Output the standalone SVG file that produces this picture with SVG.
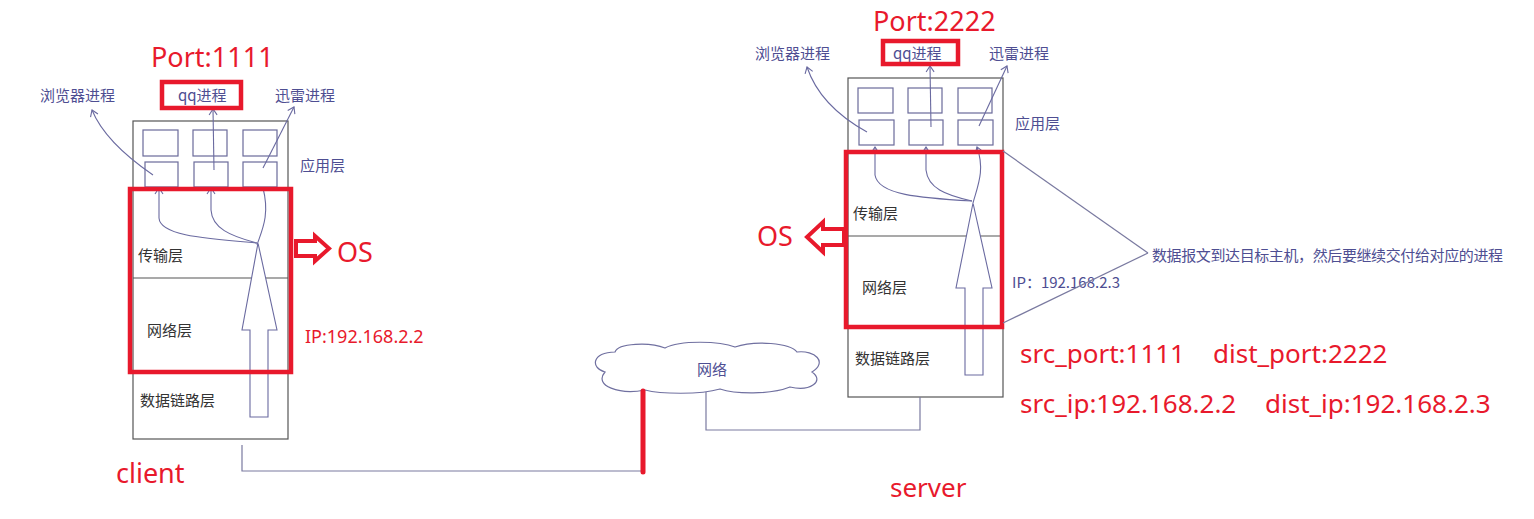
<svg xmlns="http://www.w3.org/2000/svg" width="1534" height="519" viewBox="0 0 1534 519">
<style>
.box{fill:none;stroke:#555;stroke-width:1.2}
.cell{fill:none;stroke:#6a6a9a;stroke-width:1.2}
.curve{fill:none;stroke:#6a6aa0;stroke-width:1.1}
.red{fill:none;stroke:#e8192c;stroke-width:4.5}
.redfill{fill:#fff;stroke:#e8192c;stroke-width:4}
.big{fill:#fff;stroke:#6a6aa0;stroke-width:1.1}
.gl{fill:none;stroke:#7a7aa0;stroke-width:1.2}
.lbl{font-family:"Noto Sans CJK SC","Noto Sans",sans-serif;font-size:15px;fill:#4e4e92}
.lay{font-family:"Noto Sans CJK SC","Noto Sans",sans-serif;font-size:15px;fill:#333}
.rt{font-family:"Noto Sans","Noto Sans CJK SC",sans-serif;fill:#e8192c}
</style>
<defs>
<marker id="ah" markerWidth="10" markerHeight="10" refX="7" refY="5" orient="auto" markerUnits="userSpaceOnUse">
<path d="M1,1 L7,5 L1,9" fill="none" stroke="#6a6aa0" stroke-width="1.1"/>
</marker>
</defs>
<rect width="1534" height="519" fill="#fff"/>

<g id="client">
<rect class="box" x="133" y="121" width="155" height="318"/>
<rect class="cell" x="143" y="130" width="35" height="26"/>
<rect class="cell" x="193" y="130" width="34" height="26"/>
<rect class="cell" x="243" y="130" width="34" height="26"/>
<rect class="cell" x="145" y="162" width="33" height="25"/>
<rect class="cell" x="194" y="162" width="34" height="25"/>
<rect class="cell" x="243" y="162" width="34" height="25"/>
<line class="box" x1="133" y1="278" x2="288" y2="278"/>
<line class="box" x1="133" y1="371" x2="288" y2="371"/>
<polygon class="big" points="250,417 268,417 268,330 277,330 258,243 242,330 250,330"/>
<path class="curve" d="M257,243 C200,238 160,235 159,218 L159,188" marker-end="url(#ah)"/>
<path class="curve" d="M257,243 C230,236 212,228 211,210 L211,188" marker-end="url(#ah)"/>
<path class="curve" d="M257,245 C262,230 270,215 263,188"/>
<path class="curve" d="M153,175 Q105,142 92,110" marker-end="url(#ah)"/>
<path class="curve" d="M214,170 L213,109" marker-end="url(#ah)"/>
<path class="curve" d="M263,168 L294,107" marker-end="url(#ah)"/>
<text class="lbl" x="40" y="101">浏览器进程</text>
<text class="lbl" x="178" y="101">qq进程</text>
<text class="lbl" x="275" y="101">迅雷进程</text>
<text class="lbl" x="300" y="171">应用层</text>
<text class="lay" x="138" y="261">传输层</text>
<text class="lay" x="147" y="336">网络层</text>
<text class="lay" x="140" y="406">数据链路层</text>
<rect class="red" x="130" y="189" width="161" height="183"/>
<rect class="red" x="162" y="82" width="79" height="26"/>
<text class="rt" x="151" y="67" font-size="27">Port:1111</text>
<polygon class="redfill" points="296,241 315,241 315,236 329,248.5 315,261 315,256 296,256"/>
<text class="rt" x="337" y="262" font-size="27">OS</text>
<text class="rt" x="305" y="343" font-size="18">IP:192.168.2.2</text>
<text class="rt" x="116" y="483" font-size="27">client</text>
</g>

<g id="network">
<path d="M605,372 C590,368 592,352 615,352 C618,343 650,342 665,348 C680,340 720,341 735,347 C755,340 790,343 797,352 C815,350 828,362 812,372 C825,381 810,392 790,387 C770,395 735,394 720,389 C700,395 660,394 645,390 C620,395 593,386 605,372 Z" fill="#fff" stroke="#7070a0" stroke-width="1.2"/>
<text class="lbl" x="712" y="375" text-anchor="middle">网络</text>
</g>

<g id="server">
<rect class="box" x="848" y="78" width="155" height="319"/>
<rect class="cell" x="858" y="88" width="35" height="25"/>
<rect class="cell" x="908" y="88" width="34" height="25"/>
<rect class="cell" x="958" y="88" width="34" height="25"/>
<rect class="cell" x="859" y="120" width="35" height="25"/>
<rect class="cell" x="909" y="120" width="34" height="25"/>
<rect class="cell" x="958" y="120" width="35" height="25"/>
<line class="box" x1="848" y1="236" x2="1003" y2="236"/>
<line class="box" x1="848" y1="326" x2="1003" y2="326"/>
<polygon class="big" points="965,375 983,375 983,288 992,288 973,203 956,288 965,288"/>
<path class="curve" d="M972,201 C920,198 878,195 875,175 L875,147" marker-end="url(#ah)"/>
<path class="curve" d="M972,201 C945,195 928,188 926,170 L926,147" marker-end="url(#ah)"/>
<path class="curve" d="M973,203 C978,185 985,170 977,147" marker-end="url(#ah)"/>
<path class="curve" d="M867,132 Q820,106 807,67" marker-end="url(#ah)"/>
<path class="curve" d="M931,127 L930,66" marker-end="url(#ah)"/>
<path class="curve" d="M979,126 L1007,66" marker-end="url(#ah)"/>
<text class="lbl" x="755" y="59">浏览器进程</text>
<text class="lbl" x="893" y="59">qq进程</text>
<text class="lbl" x="989" y="59">迅雷进程</text>
<text class="lbl" x="1015" y="129">应用层</text>
<text class="lay" x="853" y="219">传输层</text>
<text class="lay" x="862" y="293">网络层</text>
<text class="lay" x="855" y="364">数据链路层</text>
<rect class="red" x="846" y="152" width="156" height="175"/>
<rect class="red" x="883" y="41" width="75" height="23"/>
<text class="rt" x="873" y="31" font-size="27">Port:2222</text>
<polygon class="redfill" points="844,229 823,229 823,222 807,237 823,252 823,245 844,245"/>
<text class="rt" x="757" y="246" font-size="27">OS</text>
<text class="rt" x="890" y="497" font-size="26">server</text>
</g>

<g id="notes">
<text class="lbl" x="1152" y="261" textLength="351" font-size="15">数据报文到达目标主机，然后要继续交付给对应的进程</text>
<text class="lbl" x="1012" y="288" font-size="14">IP：192.168.2.3</text>
<text class="rt" x="1020" y="363" font-size="26">src_port:1111</text>
<text class="rt" x="1213" y="363" font-size="26">dist_port:2222</text>
<text class="rt" x="1020" y="413" font-size="26">src_ip:192.168.2.2</text>
<text class="rt" x="1265" y="413" font-size="26">dist_ip:192.168.2.3</text>
</g>

<g id="connectors">
<polyline class="gl" points="242,445 242,471 643,471"/>
<line x1="643" y1="391" x2="643" y2="472" stroke="#e8192c" stroke-width="5" stroke-linecap="round"/>
<polyline class="gl" points="706,392 706,430 920,430 920,397"/>
<line class="gl" x1="1003" y1="151" x2="1148" y2="253" stroke="#888"/>
<line class="gl" x1="1003" y1="323" x2="1148" y2="253" stroke="#888"/>
</g>
</svg>
